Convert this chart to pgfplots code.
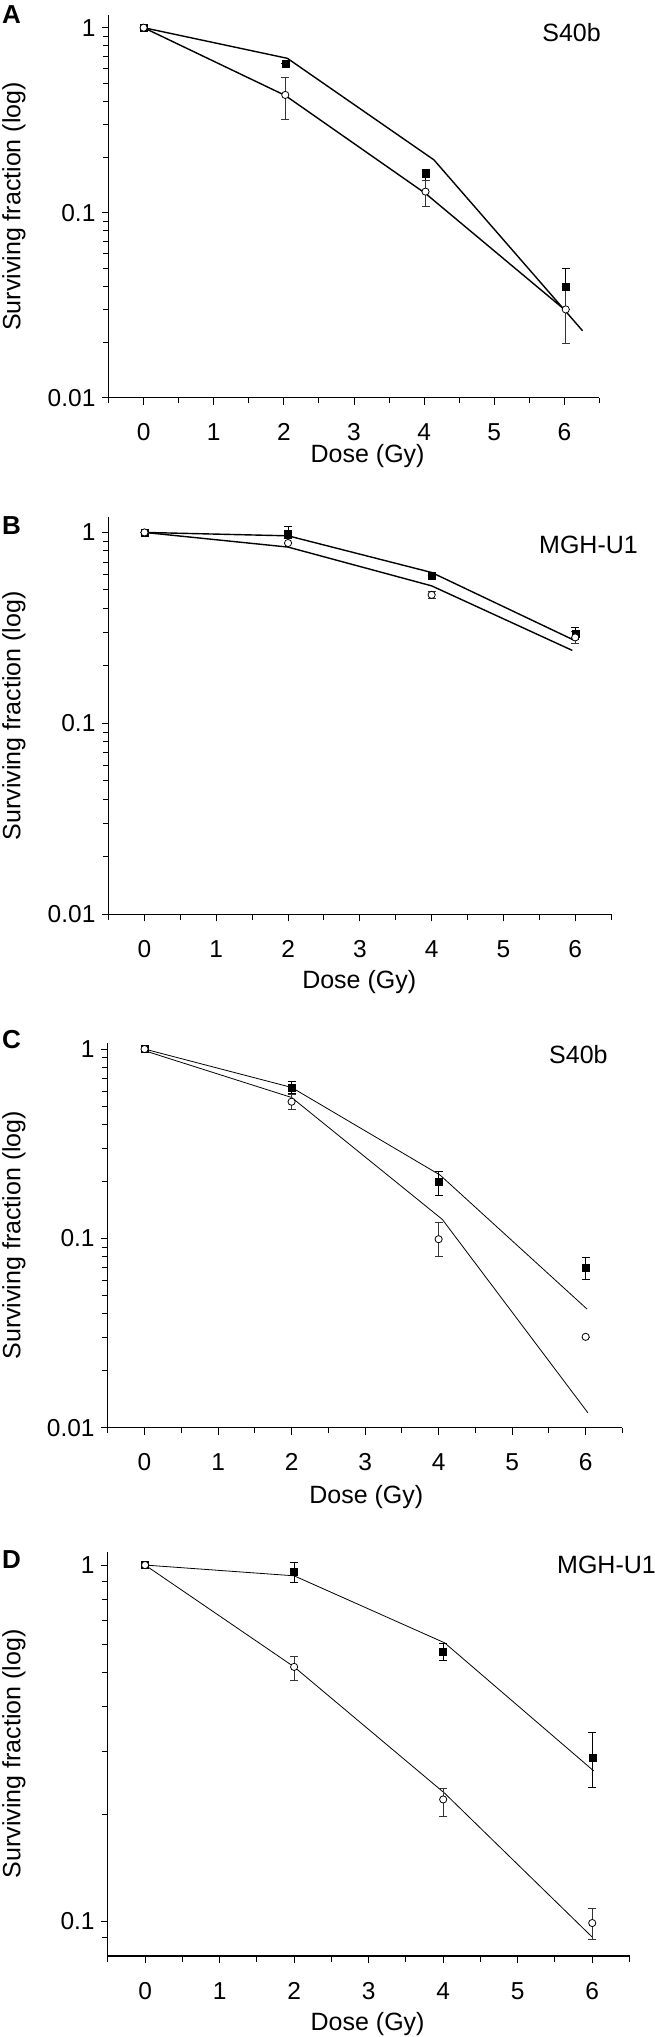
\documentclass[border=0pt]{standalone}
\usepackage{fontspec}
\setmainfont{Liberation Sans}
\usepackage{pgfplots}
\pgfplotsset{compat=1.18}

\newcommand{\fs}{\fontsize{25}{30}\selectfont}
\newcommand{\ts}{\fontsize{24.5}{29}\selectfont}

\pgfplotsset{
  every axis/.append style={
    scale only axis, anchor=north west, clip=false,
    axis lines=left, axis line style={-, line width=1.3pt},
    xmin=-0.5, xmax=6.5,
    xtick={0,1,2,3,4,5,6}, xticklabels={0,1,2,3,4,5,6},
    minor xtick={-0.5,0.5,1.5,2.5,3.5,4.5,5.5,6.5},
    tick align=outside, major tick length=7pt, minor tick length=5.5pt,
    major tick style={black, line width=1pt},
    minor tick style={black, line width=1pt},
    tick label style={font=\ts, inner sep=0pt},
    xticklabel style={anchor=base, yshift=-36pt},
    yticklabel style={anchor=east, xshift=-6pt},
  },
}
\tikzset{
  fitA/.style={black, line width=1.4pt},
  fitC/.style={black, line width=0.8pt},
}

\begin{document}
\begin{tikzpicture}
\useasboundingbox (0,0) rectangle (655pt,-2037pt);

% ---------- A ----------
\begin{axis}[ymode=log, at={(108.6pt,-15pt)}, width=490.8pt, height=382.7pt,
  ymin=0.01, ymax=1.171, ytick={0.01,0.1,1}, yticklabels={0.01,0.1,1},
  minor ytick={0.02,0.03,0.04,0.05,0.06,0.07,0.08,0.09,0.2,0.3,0.4,0.5,0.6,0.7,0.8,0.9}]
  \addplot[fitA, mark=none] coordinates {(0,1) (2.05,0.683) (4.14,0.193) (6.26,0.023)};
  \addplot[fitA, mark=none] coordinates {(0,1) (2.02,0.43) (4.02,0.127) (6.0,0.030)};
  \addplot[only marks, mark=square*, mark size=3.5pt, mark options={black, fill=black},
    error bars/y dir=both, error bars/y explicit,
    error bars/error bar style={black, line width=0.7pt},
    error bars/error mark options={rotate=90, mark size=4pt, black, line width=0.7pt}]
    table[x=x, y=y, y error plus=ep, y error minus=em] {
    x y ep em
    0 1 0 0
    2.02 0.642 0 0
    4.02 0.162 0.009 0.013
    6.02 0.040 0.010 0.010
  };
  \addplot[only marks, mark=*, mark size=3.6pt, mark options={black, fill=white, line width=0.8pt},
    error bars/y dir=both, error bars/y explicit,
    error bars/error bar style={black!80, line width=0.6pt},
    error bars/error mark options={rotate=90, mark size=4pt, black!80, line width=0.6pt}]
    table[x=x, y=y, y error plus=ep, y error minus=em] {
    x y ep em
    0 1 0 0
    2.02 0.433 0.104 0.112
    4.02 0.130 0.020 0.022
    6.02 0.030 0.010 0.0103
  };
\end{axis}

% ---------- B ----------
\begin{axis}[ymode=log, at={(108.6pt,-517.3pt)}, width=502.5pt, height=397pt,
  ymin=0.01, ymax=1.20, ytick={0.01,0.1,1}, yticklabels={0.01,0.1,1},
  minor ytick={0.02,0.03,0.04,0.05,0.06,0.07,0.08,0.09,0.2,0.3,0.4,0.5,0.6,0.7,0.8,0.9}]
  \addplot[fitA, mark=none] coordinates {(0,1) (2.0,0.96) (4.0,0.617) (5.99,0.272)};
  \addplot[fitA, mark=none] coordinates {(0,1) (2.0,0.838) (4.0,0.525) (5.96,0.241)};
  \addplot[only marks, mark=square*, mark size=3.5pt, mark options={black, fill=black},
    error bars/y dir=both, error bars/y explicit,
    error bars/error bar style={black, line width=0.7pt},
    error bars/error mark options={rotate=90, mark size=4pt, black, line width=0.7pt}]
    table[x=x, y=y, y error plus=ep, y error minus=em] {
    x y ep em
    0 1 0 0
    2 0.98 0.10 0.05
    4 0.593 0 0
    6 0.294 0.025 0.020
  };
  \addplot[only marks, mark=*, mark size=3.6pt, mark options={black, fill=white, line width=0.8pt},
    error bars/y dir=both, error bars/y explicit,
    error bars/error bar style={black!80, line width=0.6pt},
    error bars/error mark options={rotate=90, mark size=4pt, black!80, line width=0.6pt}]
    table[x=x, y=y, y error plus=ep, y error minus=em] {
    x y ep em
    0 1 0 0
    2 0.88 0 0
    4 0.471 0.02 0.02
    6 0.282 0.02 0.019
  };
\end{axis}

% ---------- C ----------
\begin{axis}[ymode=log, at={(107.8pt,-1042.7pt)}, width=514.6pt, height=385pt,
  ymin=0.01, ymax=1.08, ytick={0.01,0.1,1}, yticklabels={0.01,0.1,1},
  minor ytick={0.02,0.03,0.04,0.05,0.06,0.07,0.08,0.09,0.2,0.3,0.4,0.5,0.6,0.7,0.8,0.9}]
  \addplot[fitC, mark=none] coordinates {(0,1) (2.0,0.627) (4.02,0.216) (6.02,0.0423)};
  \addplot[fitC, mark=none] coordinates {(0,0.98) (2.0,0.555) (4.05,0.126) (6.03,0.012)};
  \addplot[only marks, mark=square*, mark size=3.5pt, mark options={black, fill=black},
    error bars/y dir=both, error bars/y explicit,
    error bars/error bar style={black, line width=0.7pt},
    error bars/error mark options={rotate=90, mark size=4pt, black, line width=0.7pt}]
    table[x=x, y=y, y error plus=ep, y error minus=em] {
    x y ep em
    0 1 0 0
    2 0.627 0.045 0.044
    4 0.199 0.028 0.030
    6 0.070 0.0097 0.0096
  };
  \addplot[only marks, mark=*, mark size=3.6pt, mark options={black, fill=white, line width=0.8pt},
    error bars/y dir=both, error bars/y explicit,
    error bars/error bar style={black!80, line width=0.6pt},
    error bars/error mark options={rotate=90, mark size=4pt, black!80, line width=0.6pt}]
    table[x=x, y=y, y error plus=ep, y error minus=em] {
    x y ep em
    0 1 0 0
    2 0.527 0.05 0.047
    4 0.099 0.022 0.019
    6 0.0302 0 0
  };
\end{axis}

% ---------- D ----------
\begin{axis}[ymode=log, at={(107.8pt,-1551.7pt)}, width=521.7pt, height=404.3pt,
  ymin=0.08, ymax=1.09, ytick={0.1,1}, yticklabels={0.1,1},
  minor ytick={0.09,0.2,0.3,0.4,0.5,0.6,0.7,0.8,0.9}]
  \addplot[fitC, mark=none] coordinates {(0,1) (2.0,0.933) (4.02,0.605) (6.02,0.2645)};
  \addplot[fitC, mark=none] coordinates {(0,1) (2.0,0.518) (4.02,0.229) (6.0,0.0904)};
  \addplot[only marks, mark=square*, mark size=3.5pt, mark options={black, fill=black},
    error bars/y dir=both, error bars/y explicit,
    error bars/error bar style={black, line width=0.7pt},
    error bars/error mark options={rotate=90, mark size=4pt, black, line width=0.7pt}]
    table[x=x, y=y, y error plus=ep, y error minus=em] {
    x y ep em
    0 1 0 0
    2 0.958 0.057 0.062
    4 0.573 0.030 0.034
    6 0.289 0.051 0.051
  };
  \addplot[only marks, mark=*, mark size=3.6pt, mark options={black, fill=white, line width=0.8pt},
    error bars/y dir=both, error bars/y explicit,
    error bars/error bar style={black!80, line width=0.6pt},
    error bars/error mark options={rotate=90, mark size=4pt, black!80, line width=0.6pt}]
    table[x=x, y=y, y error plus=ep, y error minus=em] {
    x y ep em
    0 1 0 0
    2 0.518 0.038 0.043
    4 0.220 0.017 0.023
    6 0.099 0.010 0.010
  };
\end{axis}

% labels
\begin{scope}[every node/.style={font=\fs, inner sep=0pt}]
  \node[anchor=north west, font=\fontsize{26}{30}\selectfont\bfseries, inner sep=0pt] at (2pt,-5pt) {A};
  \node[anchor=north west, font=\fontsize{26}{30}\selectfont\bfseries, inner sep=0pt] at (2pt,-516.7pt) {B};
  \node[anchor=north west, font=\fontsize{26}{30}\selectfont\bfseries, inner sep=0pt] at (2pt,-1030pt) {C};
  \node[anchor=north west, font=\fontsize{26}{30}\selectfont\bfseries, inner sep=0pt] at (2pt,-1550pt) {D};

  \node[anchor=base east] at (601pt,-41pt) {S40b};
  \node[anchor=base west] at (539pt,-553.3pt) {MGH-U1};
  \node[anchor=base east] at (607.8pt,-1063.3pt) {S40b};
  \node[anchor=base west] at (557pt,-1573pt) {MGH-U1};

  \node[rotate=90] at (14pt,-206.5pt) {Surviving fraction (log)};
  \node[rotate=90] at (14pt,-715.8pt) {Surviving fraction (log)};
  \node[rotate=90] at (14pt,-1235.2pt) {Surviving fraction (log)};
  \node[rotate=90] at (14pt,-1753.9pt) {Surviving fraction (log)};

  \node[anchor=base] at (367.6pt,-462pt) {Dose (Gy)};
  \node[anchor=base] at (359.2pt,-988.3pt) {Dose (Gy)};
  \node[anchor=base] at (366.3pt,-1503.3pt) {Dose (Gy)};
  \node[anchor=base] at (367.6pt,-2030pt) {Dose (Gy)};
\end{scope}
\end{tikzpicture}
\end{document}
